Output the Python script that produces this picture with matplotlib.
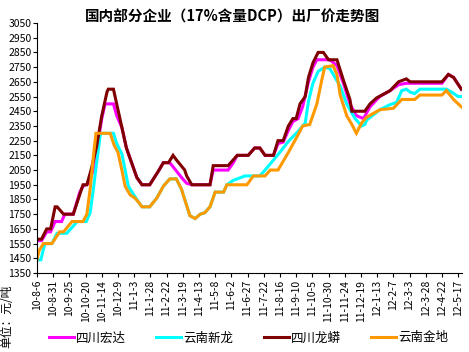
import matplotlib
matplotlib.use('Agg')

import datetime as dt
import matplotlib.pyplot as plt

plt.rcParams['font.family'] = ['Noto Sans CJK SC', 'DejaVu Sans']

# day offsets from 2010-08-06 and prices (yuan / t)
hongda_days = [0, 7, 15, 21, 28, 38, 43, 56, 66, 71, 80, 87, 100, 105, 118, 123, 131,
               138, 146, 154, 162, 174, 187, 195, 205, 223, 231, 239, 267, 272, 295,
               303, 309, 326, 336, 344, 352, 365, 372, 380, 388, 395, 403, 410, 419,
               426, 432, 452, 463, 473, 483, 493, 504, 514, 529, 545, 558, 570, 625,
               635, 643, 655]
hongda = [1570, 1570, 1630, 1630, 1700, 1700, 1750, 1750, 1900, 1940, 1960, 2050, 2400,
          2500, 2500, 2420, 2340, 2200, 2100, 2000, 1950, 1950, 2040, 2100, 2100, 2000,
          1960, 1950, 1950, 2050, 2050, 2100, 2150, 2150, 2200, 2200, 2150, 2150, 2230,
          2240, 2320, 2380, 2400, 2480, 2650, 2750, 2800, 2800, 2760, 2640, 2500, 2420,
          2400, 2480, 2550, 2590, 2630, 2640, 2640, 2700, 2680, 2600]

xinlong_days = [0, 6, 12, 23, 31, 46, 62, 76, 82, 87, 92, 98, 118, 123, 131, 136, 141,
                151, 157, 162, 174, 185, 195, 205, 215, 223, 228, 236, 244, 252, 259,
                267, 275, 288, 293, 303, 321, 344, 352, 372, 388, 403, 414, 419, 426,
                434, 444, 452, 460, 468, 478, 491, 501, 506, 509, 529, 545, 555, 563,
                570, 576, 583, 591, 632, 640, 650, 655]
xinlong = [1440, 1440, 1550, 1550, 1620, 1620, 1700, 1700, 1760, 1920, 2100, 2300, 2300,
           2230, 2160, 2050, 1940, 1870, 1830, 1800, 1800, 1860, 1940, 1990, 1990, 1920,
           1850, 1740, 1720, 1750, 1760, 1800, 1900, 1900, 1950, 1980, 2010, 2010, 2050,
           2155, 2245, 2313, 2370, 2517, 2642, 2721, 2750, 2740, 2680, 2620, 2500, 2400,
           2350, 2360, 2390, 2460, 2495, 2510, 2590, 2600, 2580, 2570, 2600, 2600, 2580,
           2550, 2550]

longmang_days = [0, 7, 15, 21, 28, 31, 41, 56, 71, 77, 84, 92, 100, 108, 110, 118, 123,
                 131, 138, 146, 154, 162, 174, 187, 195, 203, 210, 215, 228, 231, 239,
                 267, 272, 295, 303, 309, 326, 336, 344, 352, 365, 372, 380, 388, 395,
                 400, 406, 414, 419, 426, 434, 442, 450, 463, 473, 483, 486, 506, 514,
                 524, 545, 558, 570, 576, 625, 635, 643, 655]
longmang = [1580, 1580, 1650, 1650, 1800, 1800, 1750, 1750, 1950, 1950, 2060, 2210, 2420,
            2580, 2600, 2600, 2500, 2340, 2200, 2100, 2000, 1950, 1950, 2040, 2100, 2100,
            2150, 2120, 2050, 2010, 1950, 1950, 2080, 2080, 2120, 2150, 2150, 2200, 2200,
            2150, 2150, 2250, 2250, 2350, 2400, 2400, 2500, 2550, 2680, 2780, 2850, 2850,
            2800, 2800, 2660, 2530, 2450, 2450, 2500, 2540, 2590, 2650, 2670, 2650, 2650,
            2700, 2680, 2600]

jindi_days = [0, 3, 10, 23, 35, 41, 54, 71, 77, 82, 87, 91, 113, 119, 125, 131, 136, 144,
              151, 157, 162, 174, 185, 195, 205, 215, 223, 228, 236, 244, 252, 259, 267,
              275, 288, 293, 324, 334, 352, 360, 372, 388, 403, 410, 421, 432, 439, 444,
              457, 463, 468, 478, 486, 493, 501, 509, 529, 550, 563, 583, 591, 625, 632,
              643, 655]
jindi = [1440, 1500, 1550, 1550, 1630, 1630, 1700, 1700, 1750, 1920, 2140, 2300, 2300,
         2220, 2170, 2050, 1940, 1880, 1860, 1830, 1800, 1800, 1860, 1940, 1990, 1990,
         1920, 1850, 1740, 1720, 1750, 1760, 1800, 1900, 1900, 1950, 1950, 2010, 2010,
         2050, 2050, 2170, 2290, 2350, 2360, 2500, 2650, 2750, 2760, 2700, 2560, 2420,
         2360, 2300, 2370, 2410, 2460, 2470, 2530, 2530, 2560, 2560, 2590, 2530, 2480]

names = ['四川宏达', '云南新龙', '四川龙蟒', '云南金地']
colors = ['#FF00FF', '#00FFFF', '#800000', '#FF9900']

start = dt.date(2010, 8, 6)
tick_days = list(range(0, 651, 25))
tick_labels = []
for d in tick_days:
    t = start + dt.timedelta(days=d)
    tick_labels.append(f"{t.year % 100}-{t.month}-{t.day}")

fig = plt.figure(figsize=(4.69, 3.52), dpi=100)
ax = fig.add_axes([37 / 469, 79 / 352, 425 / 469, 250 / 352])

series = [(hongda_days, hongda), (xinlong_days, xinlong),
          (longmang_days, longmang), (jindi_days, jindi)]
for (xs, ys), name, c in zip(series, names, colors):
    ax.plot(xs, ys, color=c, linewidth=2.2, label=name, solid_joinstyle='miter')

ax.set_xlim(0, 656)
ax.set_ylim(1350, 3050)
ax.set_yticks(range(1350, 3051, 100))
ax.tick_params(axis='y', labelsize=7.5, length=3, pad=1)
ax.set_xticks(tick_days)
ax.set_xticklabels(tick_labels, rotation=90, fontsize=7.5)
ax.tick_params(axis='x', length=3, pad=2)
for s in ['top', 'right']:
    ax.spines[s].set_visible(False)

fig.text(233 / 469, 1 - 17 / 352, '国内部分企业（17%含量DCP）出厂价走势图',
         ha='center', va='center', fontsize=10.5, fontweight='bold')
fig.text(7 / 469, 1 - 316 / 352, '单位：元/吨', rotation=90,
         ha='center', va='center', fontsize=8.5)

fig.legend(loc='center', bbox_to_anchor=(0.53, 0.04), ncol=4, frameon=False,
           fontsize=9, handlelength=2.0, columnspacing=2.4, handletextpad=0.2)

plt.savefig('out.png', dpi=100)
